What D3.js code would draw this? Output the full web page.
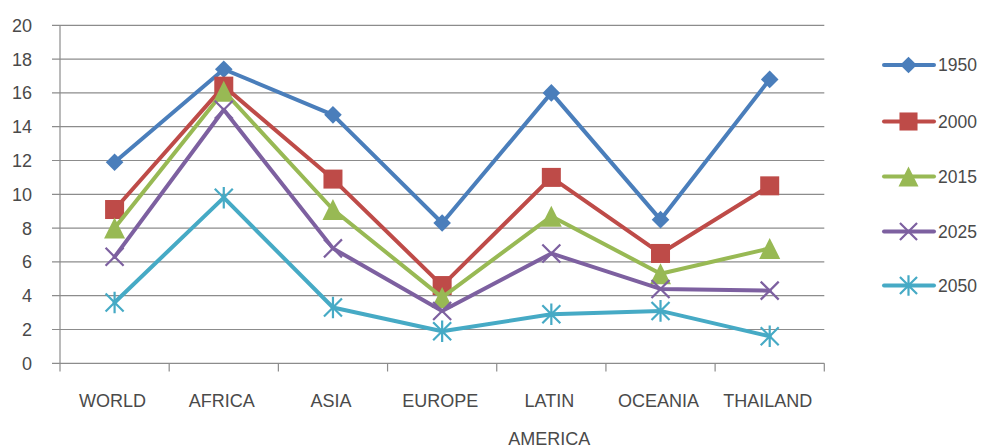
<!DOCTYPE html>
<html><head><meta charset="utf-8">
<script src="https://cdn.jsdelivr.net/npm/d3@7"></script>
<style>
body{margin:0;background:#fff;}
svg{display:block;}
text{font-family:"Liberation Sans",Arial,sans-serif;fill:#4a4a4a;}
</style></head><body>
<svg id="chart" width="983" height="448"></svg>
<script>
const categories = ["WORLD","AFRICA","ASIA","EUROPE","LATIN\nAMERICA","OCEANIA","THAILAND"];
const seriesNames = ["1950","2000","2015","2025","2050"];
const s1950 = [11.9,17.4,14.7,8.3,16.0,8.5,16.8];
const s2000 = [9.1,16.4,10.9,4.6,11.0,6.5,10.5];
const s2015 = [8.0,16.1,9.1,3.9,8.7,5.3,6.8];
const s2025 = [6.3,15.0,6.8,3.1,6.5,4.4,4.3];
const s2050 = [3.6,9.8,3.3,1.9,2.9,3.1,1.6];
const yTicks = [0,2,4,6,8,10,12,14,16,18,20];
const colors = ["#4A7EBB","#BE4B48","#98B954","#7D60A0","#46AAC5"];
const markers = ["diamond","square","triangle","x","star"];
const allSeries = [s1950,s2000,s2015,s2025,s2050];

const svg = d3.select("#chart");
const x = d3.scaleBand().domain(categories).range([60,824.3]);
const y = d3.scaleLinear().domain([0,20]).range([363.3,25.3]);

// gridlines
svg.append("g").selectAll("line").data(yTicks).join("line")
  .attr("x1",52).attr("x2",824.3)
  .attr("y1",d=>y(d)).attr("y2",d=>y(d))
  .attr("stroke","#8c8c8c").attr("stroke-width",1.2);

// y axis line
svg.append("line").attr("x1",60).attr("x2",60).attr("y1",y(20)).attr("y2",371.5)
  .attr("stroke","#8c8c8c").attr("stroke-width",1.2);
// category ticks
const bounds = categories.map(c=>x(c)).concat([x.range()[1]]);
svg.append("g").selectAll("line").data(bounds.slice(1)).join("line")
  .attr("x1",d=>d).attr("x2",d=>d).attr("y1",y(0)).attr("y2",371.5)
  .attr("stroke","#8c8c8c").attr("stroke-width",1.2);

// y tick labels
svg.append("g").selectAll("text").data(yTicks).join("text")
  .attr("x",32).attr("y",d=>y(d)+6.5).attr("text-anchor","end")
  .attr("font-size",18).text(d=>d);

// x labels
const xl = svg.append("g").selectAll("text").data(categories).join("text")
  .attr("text-anchor","middle").attr("font-size",18)
  .attr("x",d=>x(d)+x.bandwidth()/2-2);
xl.each(function(d){
  const lines=d.split("\n");
  const t=d3.select(this);
  lines.forEach((l,i)=>t.append("tspan").attr("x",x(d)+x.bandwidth()/2-2).attr("y",406.5+i*38).text(l));
});

function drawMarker(g, type, color, cx, cy, scale){
  scale = scale||1;
  if(type==="diamond"){
    const r=8.8*scale;
    g.append("path").attr("d",`M${cx},${cy-r}L${cx+r},${cy}L${cx},${cy+r}L${cx-r},${cy}Z`).attr("fill",color);
  } else if(type==="square"){
    const r=9.5*scale;
    g.append("rect").attr("x",cx-r).attr("y",cy-r).attr("width",2*r).attr("height",2*r).attr("fill",color);
  } else if(type==="triangle"){
    const r=10.5*scale;
    g.append("path").attr("d",`M${cx},${cy-r}L${cx+r},${cy+r}L${cx-r},${cy+r}Z`).attr("fill",color);
  } else if(type==="x"){
    const r=9*scale;
    g.append("path").attr("d",`M${cx-r},${cy-r}L${cx+r},${cy+r}M${cx-r},${cy+r}L${cx+r},${cy-r}`)
      .attr("stroke",color).attr("stroke-width",2.2).attr("fill","none");
  } else if(type==="star"){
    const r=9*scale;
    g.append("path").attr("d",`M${cx-r},${cy-r}L${cx+r},${cy+r}M${cx-r},${cy+r}L${cx+r},${cy-r}M${cx},${cy-r*1.2}L${cx},${cy+r*1.2}`)
      .attr("stroke",color).attr("stroke-width",2.2).attr("fill","none");
  }
}

const line = d3.line().x((d,i)=>x(categories[i])+x.bandwidth()/2).y(d=>y(d));
allSeries.forEach((vals,si)=>{
  const g=svg.append("g");
  g.append("path").datum(vals).attr("d",line).attr("fill","none")
    .attr("stroke",colors[si]).attr("stroke-width",4).attr("stroke-linejoin","round").attr("stroke-linecap","round");
  vals.forEach((v,i)=>drawMarker(g,markers[si],colors[si],x(categories[i])+x.bandwidth()/2,y(v)));
});

// legend
const legY=[65,121.5,176.5,231.5,285.5];
seriesNames.forEach((n,si)=>{
  const g=svg.append("g");
  g.append("line").attr("x1",884).attr("x2",934).attr("y1",legY[si]).attr("y2",legY[si])
    .attr("stroke",colors[si]).attr("stroke-width",4).attr("stroke-linecap","round");
  drawMarker(g,markers[si],colors[si],908.5,legY[si],0.95);
  g.append("text").attr("x",938).attr("y",legY[si]+6.3).attr("font-size",17.5).text(n);
});
</script>
</body></html>
